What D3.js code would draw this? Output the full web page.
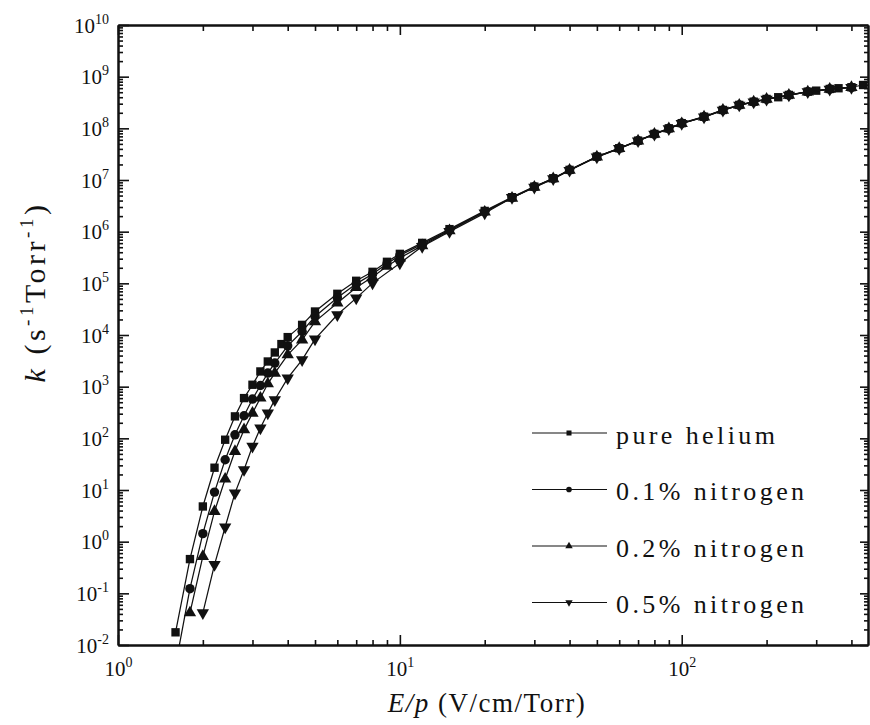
<!DOCTYPE html>
<html lang="en">
<head>
<meta charset="UTF-8">
<title>k vs E/p</title>
<script src="https://cdnjs.cloudflare.com/ajax/libs/d3/7.8.5/d3.min.js"></script>
<style>
  body { margin: 0; background: #fff; }
  svg { display: block; }
  svg text { font-family: "Liberation Serif", Tinos, "Times New Roman", "DejaVu Serif", serif; }
  .axis path { stroke: #111; stroke-width: 2px; }
  .axis line { stroke: #111; stroke-width: 1.6px; }
  .line { fill: none; stroke: #111; stroke-width: 1.25px; }
</style>
</head>
<body>
<svg width="870" height="725"></svg>
<script>
// E/p (V/cm/Torr) and k (s^-1 Torr^-1)
const ePure = [1.6, 1.8, 2.0, 2.2, 2.4, 2.6, 2.8, 3.0, 3.2, 3.4, 3.6, 3.8, 4.0, 4.5, 5, 6, 7, 8, 9, 10, 12, 15, 20, 25, 30, 35, 40, 50, 60, 70, 80, 90, 100, 120, 140, 160, 180, 200, 220, 240, 280, 300, 335, 360, 400, 440];
const kPure = [0.0176, 0.46, 4.8, 27, 94, 266, 601, 1089, 1970, 3070, 4590, 6670, 9100, 15700, 28500, 62700, 1.12e5, 1.67e5, 2.61e5, 3.72e5, 6.07e5, 1.12e6, 2.52e6, 4.65e6, 7.45e6, 1.08e7, 1.57e7, 2.84e7, 4.12e7, 5.78e7, 7.8e7, 1.0e8, 1.26e8, 1.68e8, 2.27e8, 2.84e8, 3.28e8, 3.7e8, 4.0e8, 4.43e8, 5.13e8, 5.36e8, 5.78e8, 5.97e8, 6.24e8, 6.9e8];

const eN01 = [1.6, 1.8, 2.0, 2.2, 2.4, 2.6, 2.8, 3.0, 3.2, 3.4, 3.6, 4.0, 4.5, 5, 6, 7, 8, 9, 10, 12, 15, 20, 25, 30, 35, 40, 50, 60, 70, 80, 90, 100, 120, 140, 160, 180, 200, 240, 280, 335, 400];
const kN01 = [0.004, 0.123, 1.43, 9.1, 38.5, 117, 274, 575, 1055, 1833, 2860, 6170, 11700, 22900, 52500, 97700, 1.51e5, 2.4e5, 3.47e5, 5.75e5, 1.07e6, 2.45e6, 4.57e6, 7.4e6, 1.07e7, 1.56e7, 2.82e7, 4.1e7, 5.75e7, 7.75e7, 9.9e7, 1.25e8, 1.67e8, 2.25e8, 2.82e8, 3.25e8, 3.68e8, 4.4e8, 5.1e8, 5.75e8, 6.2e8];

const eN02 = [1.8, 2.0, 2.2, 2.4, 2.6, 2.8, 3.0, 3.2, 3.4, 3.6, 4.0, 4.5, 5, 6, 7, 8, 9, 10, 12, 15, 20, 25, 30, 35, 40, 50, 60, 70, 80, 90, 100, 120, 140, 160, 180, 200, 240, 280, 335, 400];
const kN02 = [0.042, 0.52, 3.85, 16.3, 56, 147, 308, 603, 1137, 1833, 4140, 8070, 18200, 41700, 83200, 1.32e5, 2.14e5, 3.09e5, 5.37e5, 1.05e6, 2.4e6, 4.47e6, 7.3e6, 1.06e7, 1.55e7, 2.8e7, 4.08e7, 5.72e7, 7.7e7, 9.85e7, 1.24e8, 1.66e8, 2.24e8, 2.8e8, 3.24e8, 3.66e8, 4.38e8, 5.08e8, 5.72e8, 6.18e8];

const eN05 = [2.0, 2.2, 2.4, 2.6, 2.8, 3.0, 3.2, 3.4, 3.6, 4.0, 4.5, 5, 6, 7, 8, 10, 12, 15, 20, 25, 30, 35, 40, 50, 60, 70, 80, 90, 100, 120, 140, 160, 180, 200, 240, 280, 335, 400];
const kN05 = [0.042, 0.36, 1.92, 8.7, 24.7, 70, 158, 308, 558, 1466, 3310, 8340, 24600, 51700, 1.01e5, 2.46e5, 5.15e5, 1.0e6, 2.28e6, 4.57e6, 7.2e6, 1.05e7, 1.53e7, 2.78e7, 4.05e7, 5.7e7, 7.68e7, 9.8e7, 1.24e8, 1.65e8, 2.23e8, 2.8e8, 3.23e8, 3.65e8, 4.37e8, 5.07e8, 5.7e8, 6.15e8];

const seriesNames = ["pure helium", "0.1% nitrogen", "0.2% nitrogen", "0.5% nitrogen"];
const xMajor = [1, 10, 100];
const yExponents = d3.range(-2, 11);

const svg = d3.select("svg");
const margin = {top: 25, right: 2, bottom: 80, left: 118};
const W = 870, H = 725;

const x = d3.scaleLog().domain([1, 458]).range([margin.left, W - margin.right]);
const y = d3.scaleLog().domain([1e-2, 1e10]).range([H - margin.bottom, margin.top]);

const xMinor = [];
[1, 10, 100].forEach(d => d3.range(2, 10).forEach(m => { if (m * d < 458) xMinor.push(m * d); }));
const yMinor = [];
d3.range(-2, 10).forEach(e => d3.range(2, 10).forEach(m => yMinor.push(m * Math.pow(10, e))));
const yMajor = yExponents.map(e => Math.pow(10, e));

svg.append("defs").append("clipPath").attr("id", "plot")
  .append("rect")
  .attr("x", margin.left).attr("y", margin.top)
  .attr("width", W - margin.right - margin.left)
  .attr("height", H - margin.bottom - margin.top);

// axes: all ticks point inward
function drawAxis(axisFn, scale, pos, major, minor, majLen, minLen) {
  const g = svg.append("g").attr("class", "axis").attr("transform", pos);
  g.call(axisFn(scale).tickValues(minor).tickSize(-minLen).tickSizeOuter(0).tickFormat(""));
  g.selectAll("text").remove();
  const g2 = svg.append("g").attr("class", "axis").attr("transform", pos);
  g2.call(axisFn(scale).tickValues(major).tickSize(-majLen).tickSizeOuter(0).tickFormat(""));
  g2.selectAll("text").remove();
  return g2;
}

const bottom = drawAxis(d3.axisBottom, x, `translate(0,${H - margin.bottom})`, xMajor, xMinor, 10, 5);
drawAxis(d3.axisTop, x, `translate(0,${margin.top})`, xMajor, xMinor, 10, 6);
const left = drawAxis(d3.axisLeft, y, `translate(${margin.left},0)`, yMajor, yMinor, 11, 5);
drawAxis(d3.axisRight, y, `translate(${W - margin.right},0)`, yMajor, yMinor, 8, 4);

function powLabel(sel, exp) {
  sel.append("tspan").text("10");
  sel.append("tspan").attr("dy", -9).attr("font-size", 14).text(exp);
}

bottom.selectAll(".tick").append("text")
  .attr("y", 31).attr("text-anchor", "middle")
  .attr("fill", "#111").attr("font-size", 21)
  .each(function(d) { powLabel(d3.select(this), Math.round(Math.log10(d))); });

left.selectAll(".tick").append("text")
  .attr("x", -9).attr("y", 7).attr("text-anchor", "end")
  .attr("fill", "#111").attr("font-size", 21)
  .each(function(d) { powLabel(d3.select(this), Math.round(Math.log10(d))); });

// axis titles
const xt = svg.append("text").attr("x", 487).attr("y", 712).attr("text-anchor", "middle")
  .attr("font-size", 27).attr("letter-spacing", 1.5).attr("fill", "#111");
xt.append("tspan").attr("font-style", "italic").text("E/p");
xt.append("tspan").text(" (V/cm/Torr)");

const yt = svg.append("text").attr("transform", "translate(45,292) rotate(-90)")
  .attr("text-anchor", "middle").attr("font-size", 30).attr("letter-spacing", 3.5).attr("fill", "#111");
yt.append("tspan").attr("font-style", "italic").text("k");
yt.append("tspan").text(" (s");
yt.append("tspan").attr("dy", -12).attr("font-size", 19).text("-1");
yt.append("tspan").attr("dy", 12).text("Torr");
yt.append("tspan").attr("dy", -12).attr("font-size", 19).text("-1");
yt.append("tspan").attr("dy", 12).text(")");

// series
const series = [
  {name: seriesNames[0], e: ePure, k: kPure, sym: d3.symbolSquare, size: 70, rot: 0},
  {name: seriesNames[1], e: eN01, k: kN01, sym: d3.symbolCircle, size: 70, rot: 0},
  {name: seriesNames[2], e: eN02, k: kN02, sym: d3.symbolTriangle, size: 66, rot: 0},
  {name: seriesNames[3], e: eN05, k: kN05, sym: d3.symbolTriangle, size: 66, rot: 180}
];

const line = d3.line().x(d => x(d[0])).y(d => y(d[1]));
const plot = svg.append("g").attr("clip-path", "url(#plot)");

series.forEach(s => {
  const pts = s.e.map((v, i) => [v, s.k[i]]);
  plot.append("path").attr("class", "line").attr("d", line(pts));
  plot.selectAll(null).data(pts).enter().append("path")
    .attr("d", d3.symbol().type(s.sym).size(s.size))
    .attr("transform", d => `translate(${x(d[0])},${y(d[1])}) rotate(${s.rot})`)
    .attr("fill", "#111");
});

// legend
const legendY = [433, 489.5, 546, 602.5];
const lg = svg.append("g");
series.forEach((s, i) => {
  const row = lg.append("g").attr("transform", `translate(0,${legendY[i]})`);
  row.append("line").attr("x1", 532).attr("x2", 607).attr("stroke", "#111").attr("stroke-width", 1.1);
  row.append("path").attr("d", d3.symbol().type(s.sym).size(s.size * 0.36))
    .attr("transform", `translate(569,0) rotate(${s.rot})`).attr("fill", "#111");
  row.append("text").attr("x", 616).attr("y", 10.5)
    .attr("font-size", 26).attr("letter-spacing", 3.4).attr("fill", "#111").text(s.name);
});
</script>
</body>
</html>
